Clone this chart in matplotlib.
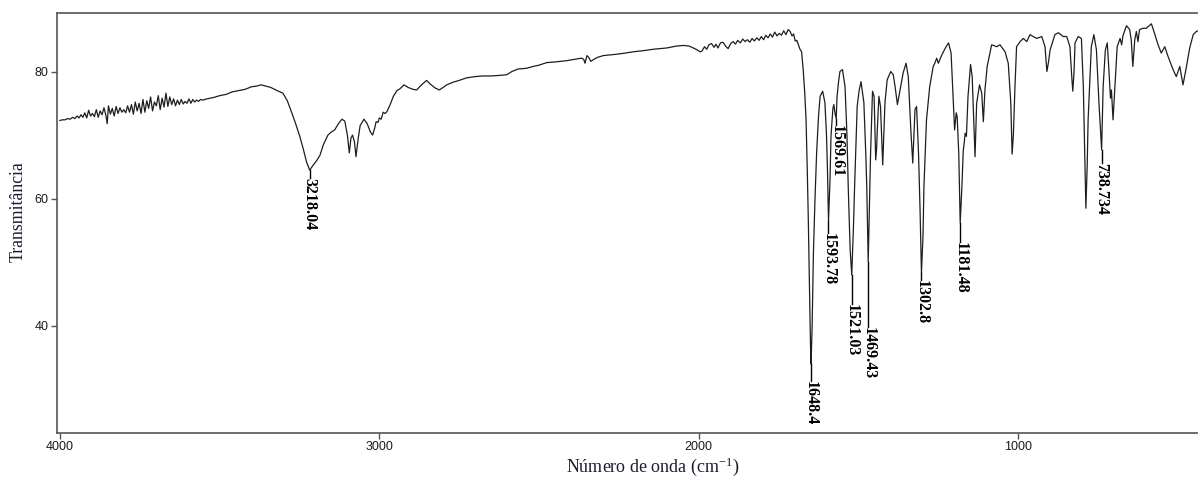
import numpy as np
import matplotlib
matplotlib.use("Agg")
import matplotlib.pyplot as plt

plt.rcParams['mathtext.fontset'] = 'stix'

# ---- spectrum data (wavenumber cm-1, transmittance %) ----
wavenumber = [
    4000, 3992, 3984, 3976, 3968, 3960, 3953, 3946, 3940, 3934, 3928, 3922, 3916, 3910, 3904,
    3898, 3892, 3886, 3880, 3874, 3868, 3862, 3856, 3852, 3848, 3842, 3836, 3830, 3824, 3818,
    3812, 3806, 3800, 3794, 3788, 3782, 3776, 3770, 3764, 3758, 3752, 3746, 3740, 3734, 3728,
    3722, 3716, 3710, 3704, 3698, 3692, 3686, 3680, 3674, 3668, 3662, 3656, 3650, 3644, 3638,
    3632, 3626, 3620, 3614, 3608, 3602, 3596, 3590, 3584, 3578, 3572, 3566, 3560, 3552,
    3540, 3520, 3500, 3480, 3460, 3440, 3420, 3400, 3385, 3370, 3355, 3340, 3320, 3302, 3288,
    3274, 3262, 3249, 3238, 3228, 3218.04, 3208, 3196, 3186, 3175, 3161, 3150, 3140, 3128, 3117,
    3108, 3100, 3094, 3089, 3084, 3078, 3073, 3066, 3060, 3048, 3038, 3028, 3021, 3015, 3010,
    3004, 3000, 2994, 2988, 2982, 2976, 2966, 2956, 2945, 2935, 2923, 2910, 2895, 2883, 2870,
    2852, 2840, 2825, 2812, 2800, 2789, 2770, 2750, 2727, 2700, 2675, 2650, 2620, 2601, 2585,
    2565, 2540, 2518, 2500, 2476, 2450, 2414, 2390, 2367, 2360, 2356, 2350, 2344, 2338, 2332,
    2318, 2299, 2260, 2230, 2205, 2170, 2142, 2100, 2070, 2048, 2030, 2017, 2005, 1996, 1990,
    1982, 1975, 1968, 1960, 1952, 1946, 1940, 1932, 1924, 1916, 1908, 1900, 1892, 1885, 1878,
    1870, 1862, 1855, 1848, 1840, 1833, 1826, 1818, 1811, 1804, 1797, 1790, 1783, 1776, 1769,
    1762, 1755, 1748, 1741, 1734, 1727, 1720, 1714, 1708, 1703, 1698, 1693, 1688, 1683, 1678,
    1673, 1668, 1664, 1660, 1657, 1653, 1650, 1648.4, 1645, 1641, 1636, 1631, 1625, 1620, 1612,
    1605, 1600, 1597, 1593.78, 1589, 1586, 1580, 1577, 1573, 1569.61, 1567, 1562, 1558, 1550, 1542,
    1536, 1532, 1526, 1521.03, 1516, 1512, 1504, 1498, 1492, 1483, 1477, 1474, 1469.43, 1466, 1462,
    1456, 1451, 1446, 1443, 1441, 1436, 1431, 1424, 1417, 1410, 1399, 1391, 1385, 1378, 1368,
    1360, 1351, 1344, 1336, 1330, 1323, 1318, 1312, 1307, 1302.8, 1298, 1295, 1287, 1277, 1266,
    1261, 1255, 1250, 1239, 1228, 1218, 1210, 1204, 1199, 1194, 1191, 1186, 1181.48, 1176, 1172,
    1169, 1166, 1162, 1157, 1149, 1144, 1139, 1135, 1130, 1121, 1114, 1109, 1104, 1097, 1083,
    1067, 1057, 1041, 1031, 1023, 1019, 1015, 1010, 1005, 994, 984, 973, 963, 953, 942,
    926, 916, 910, 905, 900, 885, 874, 859, 848, 838, 832, 829, 825, 822, 812,
    802, 796, 792, 788, 784, 781, 771, 763, 755, 747, 738.734, 734, 727, 721, 716,
    711, 708, 703, 697, 690, 681, 676, 672, 661, 651, 646, 641, 635, 630, 625,
    620, 609, 599, 583, 573, 562, 552, 541, 531, 515, 505, 494, 484, 473, 463,
    452, 442, 437,
]
transmittance = [
    72.3, 72.4, 72.4, 72.6, 72.5, 72.8, 72.6, 73.0, 72.7, 73.2, 72.8, 73.5, 72.7, 73.9, 73.0,
    73.4, 72.9, 74.0, 72.8, 73.8, 73.2, 74.3, 73.1, 71.8, 74.6, 73.3, 74.2, 73.0, 74.5, 73.4,
    74.3, 73.6, 74.0, 73.5, 74.6, 73.6, 74.8, 73.3, 75.2, 73.8, 75.0, 73.4, 75.6, 73.6, 75.4,
    74.2, 76.0, 73.8, 75.2, 74.6, 76.2, 74.0, 75.8, 74.4, 76.6, 74.5, 76.0, 74.8, 75.7, 74.6,
    75.5, 74.8, 75.6, 74.9, 75.3, 75.0, 75.7, 75.0, 75.6, 75.2, 75.5, 75.3, 75.6, 75.5,
    75.7, 75.9, 76.2, 76.4, 76.8, 77.0, 77.2, 77.6, 77.7, 77.9, 77.7, 77.5, 77.0, 76.6, 75.4,
    73.5, 71.8, 69.8, 67.8, 65.8, 64.5, 65.2, 66.0, 66.8, 68.5, 70.0, 70.5, 70.8, 71.8, 72.5,
    72.2, 70.0, 67.2, 69.5, 70.0, 69.0, 66.6, 69.5, 71.5, 72.5, 71.8, 70.5, 70.0, 71.0, 72.1,
    72.0, 72.7, 72.5, 73.6, 73.4, 73.7, 74.8, 76.1, 77.0, 77.3, 77.9, 77.5, 77.2, 77.1, 77.8,
    78.6, 78.0, 77.4, 77.1, 77.5, 77.9, 78.3, 78.6, 79.0, 79.2, 79.3, 79.3, 79.4, 79.5, 80.0,
    80.4, 80.5, 80.8, 81.0, 81.4, 81.5, 81.7, 81.9, 82.1, 81.9, 81.3, 82.5, 82.2, 81.6, 81.8,
    82.2, 82.5, 82.7, 82.9, 83.1, 83.3, 83.5, 83.7, 84.0, 84.1, 84.0, 83.7, 83.4, 83.1, 83.2,
    83.9, 83.5, 84.2, 84.4, 83.8, 84.3, 83.7, 84.5, 84.6, 84.0, 83.6, 84.4, 84.7, 84.3, 84.9,
    84.5, 85.1, 84.7, 85.0, 84.6, 85.2, 84.8, 85.3, 84.9, 85.5, 85.0, 85.7, 85.3, 85.9, 85.4,
    86.2, 85.6, 86.0, 85.7, 86.4, 85.8, 86.6, 86.3, 85.6, 85.9, 84.8, 84.9, 84.2, 83.5, 83.1,
    80.3, 76.5, 72.4, 64.0, 56.7, 45.0, 36.5, 34.0, 40.0, 51.5, 60.0, 67.2, 73.0, 76.1, 76.9,
    75.1, 70.0, 64.5, 56.5, 63.0, 69.8, 74.2, 74.8, 73.3, 72.6, 76.1, 78.5, 80.0, 80.3, 77.6,
    70.0, 61.9, 52.0, 48.0, 55.0, 62.0, 74.5, 77.0, 78.4, 75.1, 67.0, 61.9, 50.1, 58.0, 67.2,
    76.9, 76.1, 66.1, 68.0, 70.8, 76.1, 74.5, 65.3, 75.1, 78.7, 80.0, 79.5, 77.5, 74.8, 77.6,
    79.8, 81.3, 79.2, 70.8, 65.6, 74.0, 74.5, 67.2, 58.0, 48.3, 54.0, 61.9, 72.4, 77.6, 80.8,
    81.3, 82.1, 81.3, 82.6, 83.7, 84.5, 82.9, 76.1, 70.8, 73.5, 72.9, 67.2, 56.2, 62.0, 67.5,
    68.7, 70.3, 69.8, 76.1, 81.1, 79.2, 72.4, 66.6, 75.0, 77.9, 76.6, 72.1, 77.1, 80.8, 84.2,
    83.9, 84.2, 83.1, 81.3, 75.0, 67.0, 70.0, 77.6, 83.9, 84.7, 85.2, 84.7, 85.8, 85.5, 85.2,
    85.5, 83.9, 80.0, 81.5, 83.4, 85.8, 86.1, 85.5, 85.5, 83.9, 79.0, 76.9, 80.0, 84.5, 85.5,
    85.2, 77.6, 68.0, 58.5, 65.0, 72.4, 83.9, 85.8, 83.4, 75.0, 67.7, 77.6, 83.4, 84.5, 80.3,
    75.8, 77.1, 72.4, 77.6, 83.9, 85.2, 84.2, 85.6, 87.2, 86.6, 85.0, 80.8, 85.0, 86.3, 84.7,
    86.6, 86.8, 86.8, 87.5, 86.0, 84.2, 82.9, 83.9, 82.4, 80.3, 79.2, 80.8, 77.9, 80.8, 83.7,
    85.8, 86.3, 86.4,
]

# ---- peak annotations ----
peak_wn = [3218.04, 1648.4, 1593.78, 1569.61, 1521.03, 1469.43, 1302.8, 1181.48, 738.734]
peak_labels = ["3218.04", "1648.4", "1593.78", "1569.61", "1521.03", "1469.43", "1302.8", "1181.48", "738.734"]
label_top = [63.3, 31.4, 54.6, 71.6, 43.5, 39.9, 47.2, 53.2, 65.6]

xticks = [4000, 3000, 2000, 1000]
yticks = [40, 60, 80]

W, H = 1198, 480
fig = plt.figure(figsize=(W / 100, H / 100), dpi=100)
ax = fig.add_axes([56.7 / W, 1 - 432.7 / H, (W - 56.7) / W, (432.7 - 13) / H])

ax.plot(wavenumber, transmittance, color='#1e1e1e', lw=0.9)

wn_arr = np.array(wavenumber)[::-1]
t_arr = np.array(transmittance)[::-1]
for wn, lab, lt in zip(peak_wn, peak_labels, label_top):
    tmin = np.interp(wn, wn_arr, t_arr)
    ax.plot([wn, wn], [tmin, lt], color='black', lw=1.0)
    ax.text(wn, lt, lab, rotation=270, ha='center', va='top',
            fontsize=11.5, fontweight='bold', family='Liberation Serif', color='black')

ax.set_xlim(4010, 437)
ax.set_ylim(23.2, 89.2)
ax.set_xticks(xticks)
ax.set_yticks(yticks)
ax.tick_params(axis='both', direction='out', length=4, width=1, color='#555555',
               labelsize=9, labelcolor='#1a1a1a', pad=2)
for lbl in ax.get_xticklabels() + ax.get_yticklabels():
    lbl.set_family('Liberation Sans')
for side in ['left', 'top', 'bottom']:
    ax.spines[side].set_color('#555555')
    ax.spines[side].set_linewidth(1.2)
ax.spines['right'].set_visible(False)

fig.text(18 / W, 1 - 212 / H, 'Transmitância', rotation=90, ha='center', va='center',
         fontsize=12.8, family='Liberation Serif', color='#1c1c30')
fig.text(653 / W, 1 - 467 / H, 'Número de onda (cm$^{\\mathregular{-1}}$)', ha='center', va='center',
         fontsize=13, family='Liberation Serif', color='#1c1c30')

fig.savefig('out.png', dpi=100)
